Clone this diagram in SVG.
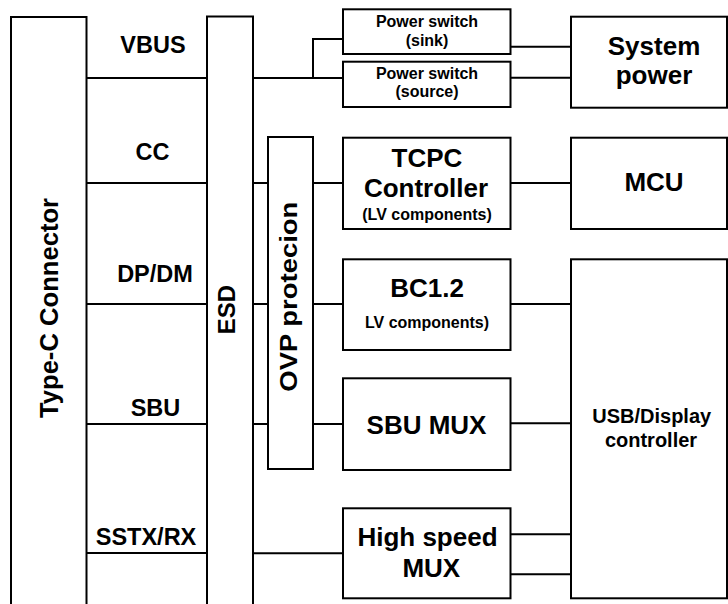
<svg xmlns="http://www.w3.org/2000/svg" width="728" height="604" viewBox="0 0 728 604">
<style>
.box{fill:#fff;stroke:#000;stroke-width:2}
.ln{fill:none;stroke:#000;stroke-width:2}
text{font-family:"Liberation Sans",Arial,Helvetica,sans-serif;font-weight:bold;fill:#000;text-anchor:middle}
.sig{font-size:23.5px}
.big{font-size:26px}
.sm{font-size:16px}
.mid{font-size:20px}
</style>
<rect width="728" height="604" fill="#fff"/>
<g id="connectors">
<path class="ln" d="M86.5 78H207M86.5 183H207M86.5 304H207M86.5 424H207M86.5 553H207"/>
<path class="ln" d="M253 78H343M313 78V39H343"/>
<path class="ln" d="M510.5 46.7H571M510.5 77.7H571"/>
<path class="ln" d="M253 183H268M253 304H268M253 424H268"/>
<path class="ln" d="M313 183H343M313 304H343M313 424H343"/>
<path class="ln" d="M253 553.3H343"/>
<path class="ln" d="M510.5 183H571M510.5 304H571M510.5 423.3H571M510.5 534.3H571M510.5 574.3H571"/>
</g>
<g id="typec">
<rect class="box" x="11" y="17" width="75.5" height="600"/>
<text transform="translate(58,308) rotate(-90)" style="font-size:25px" textLength="220" lengthAdjust="spacingAndGlyphs">Type-C Connector</text>
</g>
<g id="labels">
<text class="sig" x="153" y="53">VBUS</text>
<text class="sig" x="152.5" y="160">CC</text>
<text class="sig" x="155" y="281.7">DP/DM</text>
<text class="sig" x="155.5" y="416">SBU</text>
<text class="sig" x="146" y="545">SSTX/RX</text>
</g>
<g id="esd">
<rect class="box" x="207" y="16.5" width="46" height="600"/>
<text transform="translate(235,309.5) rotate(-90)" style="font-size:24px">ESD</text>
</g>
<g id="sink">
<rect class="box" x="343" y="9.3" width="167.5" height="44.7"/>
<text class="sm" x="427" y="26.7">Power switch</text>
<text class="sm" x="427" y="45.5">(sink)</text>
</g>
<g id="source">
<rect class="box" x="343" y="61.7" width="167.5" height="45.3"/>
<text class="sm" x="427" y="79.3">Power switch</text>
<text class="sm" x="427" y="97.3">(source)</text>
</g>
<g id="syspower">
<rect class="box" x="571" y="16.7" width="156" height="91"/>
<text class="big" x="654" y="55">System</text>
<text class="big" x="654" y="83.5">power</text>
</g>
<g id="ovp">
<rect class="box" x="268" y="137" width="45" height="332"/>
<text transform="translate(297,296.7) rotate(-90)" style="font-size:24px" textLength="190" lengthAdjust="spacingAndGlyphs">OVP protecion</text>
</g>
<g id="tcpc">
<rect class="box" x="343" y="137.7" width="167.5" height="91.3"/>
<text class="big" x="427" y="166.7">TCPC</text>
<text class="big" x="426" y="196.7">Controller</text>
<text class="sm" x="427" y="220">(LV components)</text>
</g>
<g id="mcu">
<rect class="box" x="571" y="137.7" width="156" height="91.3"/>
<text class="big" x="654" y="191">MCU</text>
</g>
<g id="bc12">
<rect class="box" x="343" y="259.3" width="167.5" height="90.7"/>
<text class="big" x="427" y="296.7">BC1.2</text>
<text class="sm" x="427" y="328.3">LV components)</text>
</g>
<g id="sbumux">
<rect class="box" x="343" y="378.3" width="167.5" height="91.7"/>
<text class="big" x="426.5" y="433.5">SBU MUX</text>
</g>
<g id="hsmux">
<rect class="box" x="343" y="508.3" width="167.5" height="90"/>
<text class="big" x="427.5" y="546">High speed</text>
<text class="big" x="431.3" y="577.3">MUX</text>
</g>
<g id="usbctrl">
<rect class="box" x="571" y="259.3" width="156" height="339"/>
<text class="mid" x="651.7" y="423.3">USB/Display</text>
<text class="mid" x="651" y="446.7">controller</text>
</g>
</svg>
